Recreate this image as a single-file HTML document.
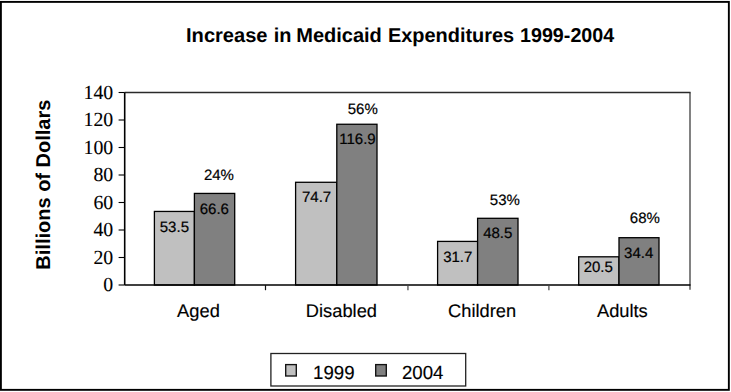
<!DOCTYPE html>
<html><head><meta charset="utf-8"><style>
html,body{margin:0;padding:0;background:#fff;width:731px;height:392px;overflow:hidden}
svg{display:block;text-rendering:geometricPrecision;font-family:"Liberation Sans",sans-serif}
</style></head><body>
<svg width="731" height="392" viewBox="0 0 731 392" fill="#000">
<rect x="0.9" y="1.9" width="727.95" height="387.95" fill="#fff" stroke="#000" stroke-width="1.9"/>
<line x1="690" y1="92.5" x2="690" y2="289.8" stroke="#6c6c6c" stroke-width="1.7"/>
<line x1="124.7" y1="92.5" x2="690.6" y2="92.5" stroke="#2a2a2a" stroke-width="1.3"/>
<rect x="154.4" y="211.44" width="40.00" height="73.56" fill="#C0C0C0" stroke="#000" stroke-width="1.3"/>
<rect x="194.4" y="193.43" width="40.30" height="91.57" fill="#808080" stroke="#000" stroke-width="1.3"/>
<rect x="295.6" y="182.29" width="41.20" height="102.71" fill="#C0C0C0" stroke="#000" stroke-width="1.3"/>
<rect x="336.8" y="124.26" width="40.20" height="160.74" fill="#808080" stroke="#000" stroke-width="1.3"/>
<rect x="437.6" y="241.41" width="40.00" height="43.59" fill="#C0C0C0" stroke="#000" stroke-width="1.3"/>
<rect x="477.6" y="218.31" width="40.40" height="66.69" fill="#808080" stroke="#000" stroke-width="1.3"/>
<rect x="578.7" y="256.81" width="40.30" height="28.19" fill="#C0C0C0" stroke="#000" stroke-width="1.3"/>
<rect x="619.0" y="237.70" width="40.00" height="47.30" fill="#808080" stroke="#000" stroke-width="1.3"/>
<line x1="124.7" y1="92.5" x2="124.7" y2="285.0" stroke="#000" stroke-width="1.6"/>
<line x1="124.7" y1="285.0" x2="690.5" y2="285.0" stroke="#000" stroke-width="1.6"/>
<line x1="118.6" y1="285.00" x2="124.7" y2="285.00" stroke="#000" stroke-width="1.1"/>
<line x1="118.6" y1="257.50" x2="124.7" y2="257.50" stroke="#000" stroke-width="1.1"/>
<line x1="118.6" y1="230.00" x2="124.7" y2="230.00" stroke="#000" stroke-width="1.1"/>
<line x1="118.6" y1="202.50" x2="124.7" y2="202.50" stroke="#000" stroke-width="1.1"/>
<line x1="118.6" y1="175.00" x2="124.7" y2="175.00" stroke="#000" stroke-width="1.1"/>
<line x1="118.6" y1="147.50" x2="124.7" y2="147.50" stroke="#000" stroke-width="1.1"/>
<line x1="118.6" y1="120.00" x2="124.7" y2="120.00" stroke="#000" stroke-width="1.1"/>
<line x1="118.6" y1="92.50" x2="124.7" y2="92.50" stroke="#000" stroke-width="1.1"/>
<line x1="265.50" y1="285.0" x2="265.50" y2="290.2" stroke="#111" stroke-width="1.2"/>
<line x1="407.95" y1="285.0" x2="407.95" y2="290.2" stroke="#444" stroke-width="1.2"/>
<line x1="548.90" y1="285.0" x2="548.90" y2="290.2" stroke="#444" stroke-width="1.2"/>
<rect x="270.9" y="353.5" width="194.8" height="32.5" fill="#fff" stroke="#222" stroke-width="1.3"/>
<rect x="285.7" y="364.6" width="10.6" height="11.4" fill="#C0C0C0" stroke="#111" stroke-width="1.35"/>
<rect x="375.7" y="364.6" width="10.6" height="11.4" fill="#808080" stroke="#111" stroke-width="1.35"/>
<text transform="translate(226.78,41.80) scale(1.004,1.000)" font-family="Liberation Sans" font-size="20" font-weight="bold" text-anchor="middle">Increase</text>
<text transform="translate(282.47,41.80) scale(0.994,1.000)" font-family="Liberation Sans" font-size="20" font-weight="bold" text-anchor="middle">in</text>
<text transform="translate(339.01,41.80)" font-family="Liberation Sans" font-size="20" font-weight="bold" text-anchor="middle">Medicaid</text>
<text transform="translate(451.04,41.80) scale(0.996,1.000)" font-family="Liberation Sans" font-size="20" font-weight="bold" text-anchor="middle">Expenditures</text>
<text transform="translate(567.11,41.80) scale(0.985,1.000)" font-family="Liberation Sans" font-size="20" font-weight="bold" text-anchor="middle">1999-2004</text>
<text transform="translate(49.59,184.63) rotate(-90)" font-family="Liberation Sans" font-size="20" font-weight="bold" text-anchor="middle">Billions of Dollars</text>
<text transform="translate(113.26,291.09) scale(0.990,1.000)" font-family="Liberation Serif" font-size="20" font-weight="normal" text-anchor="end" stroke="#000" stroke-width="0.1">0</text>
<text transform="translate(113.26,263.59) scale(0.990,1.000)" font-family="Liberation Serif" font-size="20" font-weight="normal" text-anchor="end" stroke="#000" stroke-width="0.1">20</text>
<text transform="translate(113.26,236.09) scale(0.990,1.000)" font-family="Liberation Serif" font-size="20" font-weight="normal" text-anchor="end" stroke="#000" stroke-width="0.1">40</text>
<text transform="translate(113.26,208.59) scale(0.990,1.000)" font-family="Liberation Serif" font-size="20" font-weight="normal" text-anchor="end" stroke="#000" stroke-width="0.1">60</text>
<text transform="translate(113.26,181.09) scale(0.990,1.000)" font-family="Liberation Serif" font-size="20" font-weight="normal" text-anchor="end" stroke="#000" stroke-width="0.1">80</text>
<text transform="translate(113.26,153.59) scale(0.990,1.000)" font-family="Liberation Serif" font-size="20" font-weight="normal" text-anchor="end" stroke="#000" stroke-width="0.1">100</text>
<text transform="translate(113.26,126.09) scale(0.990,1.000)" font-family="Liberation Serif" font-size="20" font-weight="normal" text-anchor="end" stroke="#000" stroke-width="0.1">120</text>
<text transform="translate(113.26,98.59) scale(0.990,1.000)" font-family="Liberation Serif" font-size="20" font-weight="normal" text-anchor="end" stroke="#000" stroke-width="0.1">140</text>
<text transform="translate(198.46,316.86)" font-family="Liberation Sans" font-size="18.3" font-weight="normal" text-anchor="middle" stroke="#000" stroke-width="0.15">Aged</text>
<text transform="translate(174.37,232.37)" font-family="Liberation Sans" font-size="15" font-weight="normal" text-anchor="middle" stroke="#000" stroke-width="0.2">53.5</text>
<text transform="translate(214.33,213.79)" font-family="Liberation Sans" font-size="15" font-weight="normal" text-anchor="middle" stroke="#000" stroke-width="0.2">66.6</text>
<text transform="translate(218.91,179.59)" font-family="Liberation Sans" font-size="15" font-weight="normal" text-anchor="middle" stroke="#000" stroke-width="0.2">24%</text>
<text transform="translate(341.39,316.99)" font-family="Liberation Sans" font-size="18.3" font-weight="normal" text-anchor="middle" stroke="#000" stroke-width="0.15">Disabled</text>
<text transform="translate(316.60,202.24)" font-family="Liberation Sans" font-size="15" font-weight="normal" text-anchor="middle" stroke="#000" stroke-width="0.2">74.7</text>
<text transform="translate(357.45,143.85)" font-family="Liberation Sans" font-size="15" font-weight="normal" text-anchor="middle" stroke="#000" stroke-width="0.2">116.9</text>
<text transform="translate(362.77,114.06)" font-family="Liberation Sans" font-size="15" font-weight="normal" text-anchor="middle" stroke="#000" stroke-width="0.2">56%</text>
<text transform="translate(482.14,317.34)" font-family="Liberation Sans" font-size="18.3" font-weight="normal" text-anchor="middle" stroke="#000" stroke-width="0.15">Children</text>
<text transform="translate(457.76,262.40)" font-family="Liberation Sans" font-size="15" font-weight="normal" text-anchor="middle" stroke="#000" stroke-width="0.2">31.7</text>
<text transform="translate(497.72,238.26)" font-family="Liberation Sans" font-size="15" font-weight="normal" text-anchor="middle" stroke="#000" stroke-width="0.2">48.5</text>
<text transform="translate(504.89,205.36)" font-family="Liberation Sans" font-size="15" font-weight="normal" text-anchor="middle" stroke="#000" stroke-width="0.2">53%</text>
<text transform="translate(622.35,317.33)" font-family="Liberation Sans" font-size="18.3" font-weight="normal" text-anchor="middle" stroke="#000" stroke-width="0.15">Adults</text>
<text transform="translate(598.26,271.82)" font-family="Liberation Sans" font-size="15" font-weight="normal" text-anchor="middle" stroke="#000" stroke-width="0.2">20.5</text>
<text transform="translate(638.69,257.96)" font-family="Liberation Sans" font-size="15" font-weight="normal" text-anchor="middle" stroke="#000" stroke-width="0.2">34.4</text>
<text transform="translate(644.83,223.48)" font-family="Liberation Sans" font-size="15" font-weight="normal" text-anchor="middle" stroke="#000" stroke-width="0.2">68%</text>
<text transform="translate(313.06,379.13) scale(0.980,1.000)" font-family="Liberation Sans" font-size="19" font-weight="normal" text-anchor="start" stroke="#000" stroke-width="0.15">1999</text>
<text transform="translate(401.95,379.34) scale(0.980,1.000)" font-family="Liberation Sans" font-size="19" font-weight="normal" text-anchor="start" stroke="#000" stroke-width="0.15">2004</text>
</svg>
</body></html>
